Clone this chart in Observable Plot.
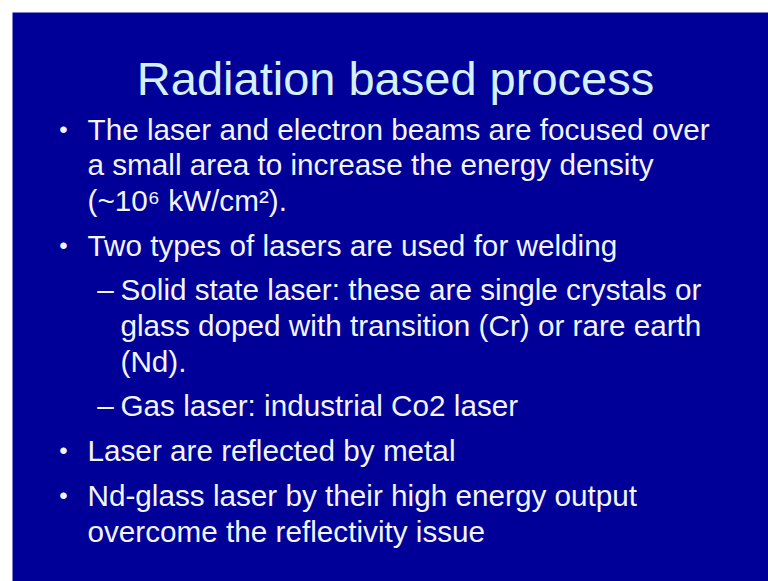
<!DOCTYPE html>
<html>
<head>
<meta charset="utf-8">
<script src="https://cdn.jsdelivr.net/npm/d3@7"></script>
<script src="https://cdn.jsdelivr.net/npm/@observablehq/plot@0.6"></script>
<style>
  html, body { margin: 0; padding: 0; background: #ffffff; }
  #chart svg { display: block; }
</style>
</head>
<body>
<div id="chart"></div>
<script>
// Slide content
const title = "Radiation based process";
const lineTexts = [
  "The laser and electron beams are focused over",
  "a small area to increase the energy density",
  "(~10\u2076 kW/cm\u00B2).",
  "Two types of lasers are used for welding",
  "Solid state laser: these are single crystals or",
  "glass doped with transition (Cr) or rare earth",
  "(Nd).",
  "Gas laser: industrial Co2 laser",
  "Laser are reflected by metal",
  "Nd-glass laser by their high energy output",
  "overcome the reflectivity issue"
];
// level: 1 = bullet, 2 = sub-bullet (dash); starts: true if line begins a new item
const lineLevels = [1, 1, 1, 1, 2, 2, 2, 2, 1, 1, 1];
const lineStarts = [true, false, false, true, true, false, false, true, true, true, false];

const W = 768, H = 581;

// layout computed from structure
const firstBaseline = 139, contStep = 35.7, itemStep = 44.7;
const textX = {1: 87, 2: 120};
const markerX = {1: 63, 2: 105};
let yCur = firstBaseline;
const lines = lineTexts.map((t, i) => {
  if (i > 0) yCur += lineStarts[i] ? itemStep : contStep;
  return {text: t, level: lineLevels[i], start: lineStarts[i], x: textX[lineLevels[i]], y: yCur};
});
const markers = lines.filter(d => d.start).map(d => ({
  x: markerX[d.level], y: d.y, glyph: d.level === 1 ? "\u2022" : "\u2013", level: d.level
}));

const plot = Plot.plot({
  width: W,
  height: H,
  marginLeft: 12, marginTop: 12, marginRight: 0, marginBottom: 0,
  style: {background: "#ffffff", fontFamily: "'Liberation Sans', Arial, sans-serif"},
  x: {domain: [12, W], range: [12, W], axis: null},
  y: {domain: [12, H], range: [12, H], axis: null},
  marks: [
    Plot.frame({fill: "#000099", stroke: null}),
    Plot.text([title], {
      x: 395, y: 94, text: d => d, fontSize: 47, fill: "#d4f0ff",
      textAnchor: "middle", lineAnchor: "bottom", fontFamily: "'Liberation Sans', Arial, sans-serif"
    }),
    Plot.text(markers.filter(d => d.level === 1), {
      x: "x", y: "y", text: "glyph", fontSize: 24, fill: "#f2f4ff",
      textAnchor: "middle", lineAnchor: "bottom", dy: -2
    }),
    Plot.text(markers.filter(d => d.level === 2), {
      x: "x", y: "y", text: "glyph", fontSize: 29.7, fill: "#f2f4ff",
      textAnchor: "middle", lineAnchor: "bottom"
    }),
    Plot.text(lines, {
      x: "x", y: "y", text: "text", fontSize: 29.7, fill: "#f2f4ff",
      textAnchor: "start", lineAnchor: "bottom"
    })
  ]
});
document.getElementById("chart").appendChild(plot);
</script>
</body>
</html>
